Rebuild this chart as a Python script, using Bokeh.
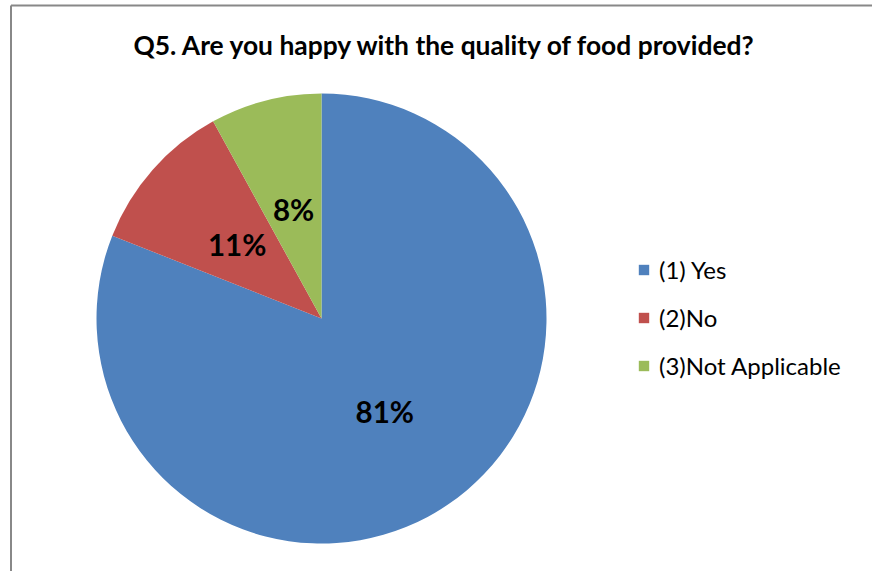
import math
from bokeh.plotting import figure
from bokeh.models import ColumnDataSource, Range1d, Label
from bokeh.core.properties import value
from bokeh.embed import file_html
from bokeh.resources import INLINE

title_text = "Q5. Are you happy with the quality of food provided?"
categories = ["(1) Yes", "(2)No", "(3)Not Applicable"]
percents = [81, 11, 8]
colors = ["#4F81BD", "#C0504D", "#9BBB59"]

W, H = 872, 571
cx, cy, R = 321, H - 318, 225
FONT = "Lato"

# clockwise from 12 o'clock
starts, ends, lx, ly, labels = [], [], [], [], []
total = float(sum(percents))
cum = 0.0
for pct in percents:
    a_end = math.pi / 2 - 2 * math.pi * cum / total
    cum += pct
    a_start = math.pi / 2 - 2 * math.pi * cum / total
    starts.append(a_start)
    ends.append(a_end)
    mid = (a_start + a_end) / 2
    lx.append(cx + 0.5 * R * math.cos(mid))
    ly.append(cy + 0.5 * R * math.sin(mid))
    labels.append(f"{pct}%")

src = ColumnDataSource(dict(label=categories, start=starts, end=ends, color=colors,
                            lx=lx, ly=ly, txt=labels))

p = figure(width=W, height=H, x_range=Range1d(0, W), y_range=Range1d(0, H),
           output_backend="svg", toolbar_location=None, min_border=0)
p.axis.visible = False
p.grid.visible = False
p.outline_line_color = None
p.background_fill_color = "white"
p.border_fill_color = "white"

# chart frame border (left and top edges visible)
p.segment(x0=[10.5, 10.5], y0=[H - 5, H - 5], x1=[10.5, W + 5], y1=[-5, H - 5],
          line_color="#888888", line_width=2)

p.wedge(x=cx, y=cy, radius=R, start_angle="start", end_angle="end",
        fill_color="color", line_color=None, legend_field="label", source=src)

p.text(x="lx", y="ly", text="txt", source=src, text_align="center",
       text_baseline="middle", text_font=value(FONT), text_font_style="bold",
       text_font_size="29.5px", text_color="black")

p.add_layout(Label(x=445, y=H - 44, text=title_text, text_align="center",
                   text_baseline="alphabetic", text_font=FONT,
                   text_font_style="bold", text_font_size="26.4px",
                   text_color="black"))

lg = p.legend[0]
lg.location = (637, H - 380)
lg.padding = 0
lg.margin = 0
lg.border_line_alpha = 0
lg.background_fill_alpha = 0
lg.glyph_width = 13
lg.glyph_height = 13
lg.label_standoff = 9
lg.spacing = 19
lg.label_text_font = FONT
lg.label_text_font_size = "24px"
lg.label_text_color = "black"

open("out.html", "w").write(file_html(p, INLINE))
